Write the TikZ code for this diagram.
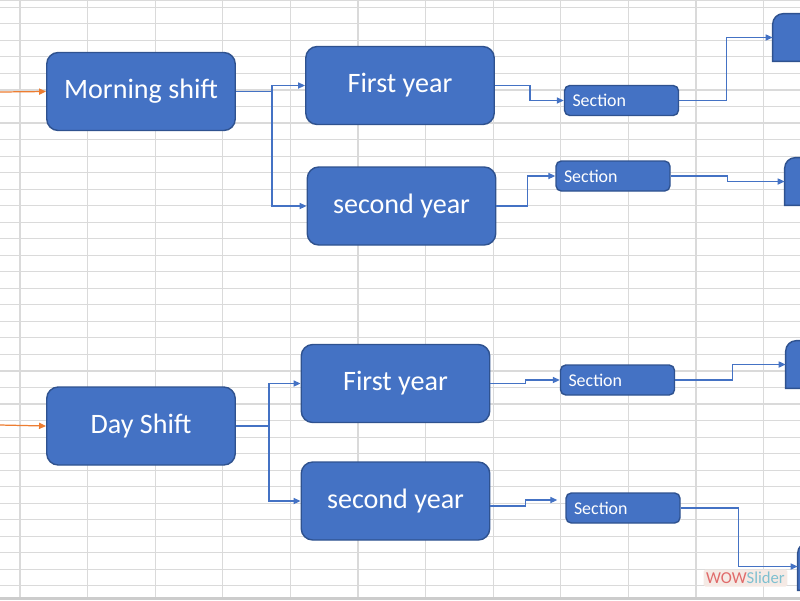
\documentclass[tikz,border=0pt]{standalone}
\usepackage{fontspec}
\setmainfont{Carlito}
\usetikzlibrary{arrows.meta}
\definecolor{boxblue}{HTML}{4472C4}
\definecolor{boxedge}{HTML}{2F528F}
\definecolor{feedorange}{HTML}{ED7D31}
\definecolor{cellgrid}{HTML}{DADADA}
\definecolor{wowred}{HTML}{E06A6A}
\definecolor{wowteal}{HTML}{7FC0D0}
\definecolor{wowback}{HTML}{F5EAE5}
\begin{document}
\begin{tikzpicture}[x=0.02cm,y=-0.02cm,every node/.style={text=white},
  gridline/.style={draw=cellgrid,line width=0.65pt},
  bigbox/.style={draw=boxedge,fill=boxblue,line width=0.8pt,rounded corners=6.5pt,inner sep=0pt,
    minimum width=3.77cm,minimum height=1.56cm,font=\fontsize{16}{18}\selectfont},
  secbox/.style={draw=boxedge,fill=boxblue,line width=0.8pt,rounded corners=3pt,inner ysep=0pt,inner xsep=0.16cm,
    text width=1.96cm,align=left,minimum height=0.6cm,font=\fontsize{10.2}{12}\selectfont},
  tipbox/.style={draw=none,minimum width=2cm,minimum height=0.94cm},
  conn/.style={draw=boxblue,line width=0.7pt,-{Triangle[length=4pt,width=3.5pt]}},
  feed/.style={draw=feedorange,line width=0.7pt,-{Triangle[length=4pt,width=3.5pt]}},
  elbow/.style={to path={-- ++(#1,0) |- (\tikztotarget)}}]
\useasboundingbox (0,0) rectangle (800,600);
\clip (0,0) rectangle (800,600);
% spreadsheet cells behind the chart
\foreach \i in {0,...,11} \draw[gridline] (20+\i*67.6,0) -- (20+\i*67.6,597);
\foreach \j in {0,...,35} \draw[gridline] (0,7.3+\j*16.53) -- (800,7.3+\j*16.53);
\draw[gridline] (0,0.8) -- (800,0.8);
\fill[gray!40] (0,597) rectangle (800,600);
% shifts and years
\node[bigbox] (ms) at (141,91.5) {\raisebox{-1.5pt}{Morning shift}};
\node[bigbox] (fy1) at (400,85.5) {\raisebox{-1.5pt}{First year}};
\node[bigbox] (sy1) at (401.5,206) {\raisebox{-1.5pt}{second year}};
\node[bigbox] (ds) at (141,426) {\raisebox{-1.5pt}{Day Shift}};
\node[bigbox] (fy2) at (395.5,383.5) {\raisebox{-1.5pt}{First year}};
\node[bigbox] (sy2) at (395.5,501) {\raisebox{-1.5pt}{second year}};
% sections
\node[secbox] (s1) at (621.5,100.5) {Section};
\node[secbox] (s2) at (613,176) {Section};
\node[secbox] (s3) at (617.5,380) {Section};
\node[secbox] (s4) at (623,508) {Section};
% boxes cut off at the right edge
\node[tipbox] (r1) at (823,37.5) {};
\node[tipbox] (r2) at (835,181.5) {};
\node[tipbox] (r3) at (836,364.5) {};
\node[tipbox] (r4) at (848,566.5) {};
\foreach \n in {r1,r2,r3,r4}
  \filldraw[draw=boxedge,fill=boxblue,line width=0.8pt] (\n.south west) -- ([yshift=-6pt]\n.north west)
    arc[start angle=180,end angle=90,radius=6pt] -- (\n.north east) -- (\n.south east) -- cycle;
% connectors
\coordinate (in1) at (0,92);
\coordinate (in2) at (0,425);
\coordinate (s4in) at ([shift={(-8,-8)}]s4.west);
\draw[feed] (in1) -- (ms.west);
\draw[feed] (in2) -- (ds.west);
\draw[conn] (ms.east) to[elbow=36] (fy1.west);
\draw[conn] (ms.east) to[elbow=36] (sy1.west);
\draw[conn] (fy1.east) to[elbow=35] (s1.west);
\draw[conn] (sy1.east) to[elbow=31] (s2.west);
\draw[conn] (s1.east) to[elbow=47] (r1.west);
\draw[conn] (s2.east) to[elbow=57] (r2.west);
\draw[conn] (ds.east) to[elbow=33] (fy2.west);
\draw[conn] (ds.east) to[elbow=33] (sy2.west);
\draw[conn] (fy2.east) to[elbow=35] (s3.west);
\draw[conn] ([yshift=-0.1cm]sy2.east) to[elbow=35] (s4in);
\draw[conn] (s3.east) to[elbow=57] (r3.west);
\draw[conn] (s4.east) to[elbow=58] (r4.west);
% watermark
\node[fill=wowback,inner sep=1.5pt,rounded corners=1pt,font=\fontsize{9.5}{10}\selectfont] (wow) at (745.5,578)
  {\textcolor{wowred}{WOW}\textcolor{wowteal}{Slider}};
\end{tikzpicture}
\end{document}
